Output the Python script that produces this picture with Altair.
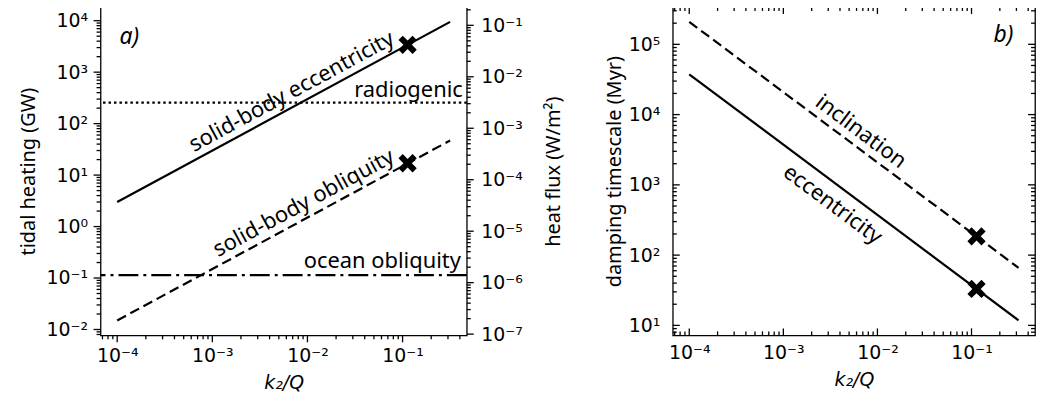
import altair as alt
import pandas as pd

# ---------------- data ----------------
k2q_ends = [1e-4, 0.316]          # x extent of the model lines
heat_ecc = [3.0, 9500.0]          # solid-body eccentricity heating (GW)
heat_obl = [0.015, 47.0]          # solid-body obliquity heating (GW)
heat_radiogenic = [255.0]         # radiogenic heating (GW)
heat_ocean = [0.114]              # ocean obliquity heating (GW)
k2q_marker = [0.113, 0.113]
heat_marker = [3400.0, 17.0]
tau_ecc = [37400.0, 11.8]         # eccentricity damping timescale (Myr)
tau_inc = [209000.0, 66.0]        # inclination damping timescale (Myr)
tau_marker = [33.0, 185.0]

# annotation anchors (data coordinates)
ann_a_text = ["solid-body eccentricity", "solid-body obliquity"]
ann_a_x = [0.0068, 0.0091]
ann_a_y = [420.0, 2.86]
ann_b_text = ["inclination", "eccentricity"]
ann_b_x = [0.00668, 0.00335]
ann_b_y = [5770.0, 528.0]

# ---------------- layout / scales ----------------
W_A, W_B, H = 368, 364, 330
XDOM = [10 ** -4.175, 10 ** -0.325]
YA = [10 ** -2.114, 10 ** 4.267]
FLUX = 10 ** -4.91                 # GW -> W/m^2
YA_R = [YA[0] * FLUX, YA[1] * FLUX]
YB = [10 ** 0.858, 10 ** 5.532]

FONT = "Noto Sans"
TICKFONT = "DejaVu Sans"
MAJ, MIN = 7, 4


def majors(lo, hi):
    return [10.0 ** e for e in range(lo, hi + 1)]


def minors(lo, hi, dom):
    out = []
    for e in range(lo, hi + 1):
        for m in range(2, 10):
            v = m * 10.0 ** e
            if dom[0] <= v <= dom[1]:
                out.append(v)
    return out


x_major = majors(-4, -1)
x_minor = minors(-5, -1, XDOM)
ya_major = majors(-2, 4)
ya_minor = minors(-3, 4, YA)
yar_major = majors(-7, -1)
yar_minor = minors(-8, -1, YA_R)
yb_major = majors(1, 5)
yb_minor = minors(0, 5, YB)

SUP = "['\u2070','\u00b9','\u00b2','\u00b3','\u2074','\u2075','\u2076','\u2077','\u2078','\u2079']"
LABEL = ("'10' + (round(log(datum.value)/LN10) < 0 ? '\u207b' : '') + "
         + SUP + "[abs(round(log(datum.value)/LN10))]")


def xs():
    return alt.Scale(type="log", domain=XDOM, nice=False)


def sc(dom):
    return alt.Scale(type="log", domain=dom, nice=False)


def label_axis(orient, values, title, pad, **kw):
    return alt.Axis(orient=orient, values=values, labelExpr=LABEL, ticks=False,
                    domain=False, grid=False, labelPadding=pad, title=title,
                    labelFont=TICKFONT, labelFontSize=19, labelFlush=False,
                    labelOverlap=False, **kw)


TICKW = 1.3


def xticks(values, y_center, length):
    # vertical tick marks positioned by the shared log x scale
    return alt.Chart(pd.DataFrame({"v": values})).mark_tick(
        color="black", thickness=TICKW, size=length, opacity=1, orient="vertical").encode(
        x=alt.X("v:Q", scale=xs(), axis=None), y=alt.value(y_center))


def yticks(values, dom, x_center, length):
    # horizontal tick marks positioned by the panel's log y scale
    return alt.Chart(pd.DataFrame({"v": values})).mark_tick(
        color="black", thickness=TICKW, size=length, opacity=1, orient="horizontal").encode(
        y=alt.Y("v:Q", scale=sc(dom), axis=None), x=alt.value(x_center))


XTITLE = dict(titleFont=TICKFONT, titleFontStyle="italic", titleFontSize=19,
              titleFontWeight="normal")
YTITLE = dict(titleFontSize=20, titleFont=FONT, titleFontWeight="normal")
XSHAPE = ("M0.495,-0.919L0.919,-0.495L0.424,0L0.919,0.495L0.495,0.919L0,0.424"
          "L-0.495,0.919L-0.919,0.495L-0.424,0L-0.919,-0.495L-0.495,-0.919L0,-0.424Z")

# ---------------- panel a ----------------
df_ecc = pd.DataFrame({"x": k2q_ends, "y": heat_ecc})
df_obl = pd.DataFrame({"x": k2q_ends, "y": heat_obl})

line_ecc = alt.Chart(df_ecc).mark_line(color="black", strokeWidth=2.2).encode(
    x=alt.X("x:Q", scale=xs(), axis=label_axis("bottom", x_major, "k\u2082/Q", MAJ + 4,
                                               titlePadding=8, **XTITLE)),
    y=alt.Y("y:Q", scale=sc(YA), axis=label_axis("left", ya_major, "tidal heating (GW)", MAJ + 6,
                                                 titlePadding=8, **YTITLE)),
)
line_obl = alt.Chart(df_obl).mark_line(color="black", strokeWidth=2.2, strokeDash=[10, 5]).encode(
    x=alt.X("x:Q", scale=xs(), axis=None),
    y=alt.Y("y:Q", scale=sc(YA), axis=None),
)
rule_rad = alt.Chart(pd.DataFrame({"y": heat_radiogenic})).mark_rule(
    color="black", strokeWidth=2.2, strokeDash=[2.5, 3]).encode(
    y=alt.Y("y:Q", scale=sc(YA), axis=None))
rule_ocean = alt.Chart(pd.DataFrame({"y": heat_ocean})).mark_rule(
    color="black", strokeWidth=2.2, strokeDash=[20, 5, 3, 5]).encode(
    y=alt.Y("y:Q", scale=sc(YA), axis=None))

mark_a = alt.Chart(pd.DataFrame({"x": k2q_marker, "y": heat_marker})).mark_point(
    shape=XSHAPE, filled=True, color="black", size=400, opacity=1).encode(
    x=alt.X("x:Q", scale=xs(), axis=None),
    y=alt.Y("y:Q", scale=sc(YA), axis=None))

txt_a = alt.Chart(pd.DataFrame({"x": ann_a_x, "y": ann_a_y, "t": ann_a_text})).mark_text(
    font=FONT, fontSize=22, angle=331.6, align="center", baseline="middle", color="black").encode(
    x=alt.X("x:Q", scale=xs(), axis=None),
    y=alt.Y("y:Q", scale=sc(YA), axis=None), text="t:N")
txt_rad = alt.Chart(pd.DataFrame({"x": [0.43], "y": [336.0], "t": ["radiogenic"]})).mark_text(
    font=FONT, fontSize=22, align="right", baseline="alphabetic", color="black").encode(
    x=alt.X("x:Q", scale=xs(), axis=None),
    y=alt.Y("y:Q", scale=sc(YA), axis=None), text="t:N")
txt_ocean = alt.Chart(pd.DataFrame({"x": [0.41], "y": [0.158], "t": ["ocean obliquity"]})).mark_text(
    font=FONT, fontSize=22, align="right", baseline="alphabetic", color="black").encode(
    x=alt.X("x:Q", scale=xs(), axis=None),
    y=alt.Y("y:Q", scale=sc(YA), axis=None), text="t:N")
txt_pa = alt.Chart(pd.DataFrame({"x": [1.06e-4], "y": [3560.0], "t": ["a)"]})).mark_text(
    font=FONT, fontSize=23, fontStyle="italic", align="left", baseline="alphabetic",
    color="black").encode(
    x=alt.X("x:Q", scale=xs(), axis=None),
    y=alt.Y("y:Q", scale=sc(YA), axis=None), text="t:N")

right_axis = alt.Chart(df_ecc).transform_calculate(f="datum.y * " + repr(FLUX)).mark_line(
    opacity=0).encode(
    x=alt.X("x:Q", scale=xs(), axis=None),
    y=alt.Y("f:Q", scale=sc(YA_R), axis=label_axis(
        "right", yar_major, "heat flux (W/m\u00b2)", MAJ + 7, titlePadding=21, titleAngle=270,
        titleBaseline="top", **YTITLE)))

ticks_a = [
    xticks(x_major, H + MAJ / 2, MAJ), xticks(x_minor, H + MIN / 2, MIN),
    yticks(ya_major, YA, -MAJ / 2, MAJ), yticks(ya_minor, YA, -MIN / 2, MIN),
    yticks(yar_major, YA_R, W_A + MAJ / 2, MAJ), yticks(yar_minor, YA_R, W_A + MIN / 2, MIN),
]

panel_a = alt.layer(
    line_ecc, line_obl, rule_rad, rule_ocean, mark_a, txt_a, txt_rad, txt_ocean, txt_pa,
    right_axis, *ticks_a,
).resolve_scale(x="independent", y="independent").properties(width=W_A, height=H)

# ---------------- panel b ----------------
df_te = pd.DataFrame({"x": k2q_ends, "y": tau_ecc})
df_ti = pd.DataFrame({"x": k2q_ends, "y": tau_inc})

line_te = alt.Chart(df_te).mark_line(color="black", strokeWidth=2.2).encode(
    x=alt.X("x:Q", scale=xs(), axis=label_axis("bottom", x_major, "k\u2082/Q", 8,
                                               titlePadding=8, **XTITLE)),
    y=alt.Y("y:Q", scale=sc(YB), axis=label_axis("left", yb_major, "damping timescale (Myr)", 13,
                                                 titlePadding=4, **YTITLE)),
)
line_ti = alt.Chart(df_ti).mark_line(color="black", strokeWidth=2.2, strokeDash=[10, 5]).encode(
    x=alt.X("x:Q", scale=xs(), axis=None),
    y=alt.Y("y:Q", scale=sc(YB), axis=None),
)
mark_b = alt.Chart(pd.DataFrame({"x": k2q_marker, "y": tau_marker})).mark_point(
    shape=XSHAPE, filled=True, color="black", size=400, opacity=1).encode(
    x=alt.X("x:Q", scale=xs(), axis=None),
    y=alt.Y("y:Q", scale=sc(YB), axis=None))
txt_b = alt.Chart(pd.DataFrame({"x": ann_b_x, "y": ann_b_y, "t": ann_b_text})).mark_text(
    font=FONT, fontSize=22, angle=36.8, align="center", baseline="middle", color="black").encode(
    x=alt.X("x:Q", scale=xs(), axis=None),
    y=alt.Y("y:Q", scale=sc(YB), axis=None), text="t:N")
txt_pb = alt.Chart(pd.DataFrame({"x": [0.278], "y": [108600.0], "t": ["b)"]})).mark_text(
    font=FONT, fontSize=23, fontStyle="italic", align="right", baseline="alphabetic",
    color="black").encode(
    x=alt.X("x:Q", scale=xs(), axis=None),
    y=alt.Y("y:Q", scale=sc(YB), axis=None), text="t:N")

ticks_b = [
    xticks(x_major, H - MAJ / 2, MAJ), xticks(x_minor, H - MIN / 2, MIN),
    xticks(x_major, MAJ / 2, MAJ), xticks(x_minor, MIN / 2, MIN),
    yticks(yb_major, YB, MAJ / 2, MAJ), yticks(yb_minor, YB, MIN / 2, MIN),
    yticks(yb_major, YB, W_B - MAJ / 2, MAJ), yticks(yb_minor, YB, W_B - MIN / 2, MIN),
]

panel_b = alt.layer(
    line_te, line_ti, mark_b, txt_b, txt_pb, *ticks_b,
).resolve_scale(x="independent", y="independent").properties(width=W_B, height=H)

chart = alt.hconcat(panel_a, panel_b, spacing=207, bounds="flush").properties(
    padding={"left": 9, "top": -3, "right": 5, "bottom": 5},
    background="white",
).configure_view(stroke="black", strokeWidth=1.3).configure_axis(
    labelColor="black", titleColor="black")

chart.save("out.html", embed_options={"renderer": "svg", "actions": False})
